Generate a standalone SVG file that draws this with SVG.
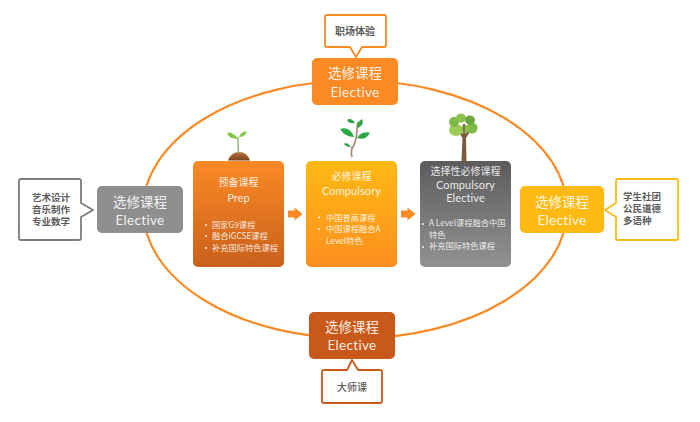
<svg xmlns="http://www.w3.org/2000/svg" width="700" height="422" viewBox="0 0 700 422">
<style>
text{font-family:"Noto Sans CJK SC","Noto Sans",sans-serif;text-anchor:middle}
.h{fill:#fff;font-size:13.5px;fill-opacity:.9}
.e{fill:#fff;font-size:13.5px;fill-opacity:.9;font-family:"Lato","Noto Sans",sans-serif;letter-spacing:.3px}
.ct{fill:#fff;font-size:10px;fill-opacity:.88}
.ce{fill:#fff;font-size:11px;fill-opacity:.88;font-family:"Lato","Noto Sans",sans-serif;letter-spacing:.1px}
.b{fill:#fff;font-size:8.25px;text-anchor:start;fill-opacity:.88}
.c{fill:#5c5c5c;font-size:9.5px;font-weight:700}
.s{fill:#fff;stroke-width:1.8;stroke-linejoin:round}
.dot{fill:#fff;fill-opacity:.9}
.sprout-leaf{fill:#86c84a}
.sapling-leaf{fill:#2aa846}
</style>
<defs>
<linearGradient id="gPrep" x1="0" y1="0" x2="0" y2="1"><stop offset="0" stop-color="#fb8a25"/><stop offset="1" stop-color="#c9601b"/></linearGradient>
<linearGradient id="gComp" x1="0" y1="0" x2="0" y2="1"><stop offset="0" stop-color="#feb913"/><stop offset="1" stop-color="#fd8f1f"/></linearGradient>
<linearGradient id="gElec" x1="0" y1="0" x2="0" y2="1"><stop offset="0" stop-color="#5c5c5c"/><stop offset="1" stop-color="#929292"/></linearGradient>
<linearGradient id="gSoil" x1="0" y1="0" x2="0" y2="1"><stop offset="0" stop-color="#b9733a"/><stop offset="1" stop-color="#7c4420"/></linearGradient>
<path id="arrow" d="M0 -3.500H6.500V-6.500L14.500 0L6.500 6.500V3.500H0Z" fill="#fd8a25"/>
</defs>

<g id="connectors">
<ellipse cx="355" cy="209.500" rx="212" ry="129" fill="none" stroke="#fb8a25" stroke-width="2.200"/>
<use href="#arrow" x="288" y="214"/>
<use href="#arrow" x="401" y="214"/>
</g>

<g id="elective-top">
<rect x="312" y="58" width="86" height="47" rx="5" fill="#fb8a25"/>
<text class="h" x="355" y="78">选修课程</text>
<text class="e" x="355" y="97">Elective</text>
</g>
<g id="callout-top">
<path class="s" stroke="#fb8a25" d="M327 15H384Q386 15 386 17V45Q386 47 384 47H362L356 57L350 47H327Q325 47 325 45V17Q325 15 327 15Z"/>
<text class="c" x="355" y="35" style="font-size:10px">职场体验</text>
</g>

<g id="elective-bottom">
<rect x="309" y="312" width="86" height="47" rx="5" fill="#c9591a"/>
<text class="h" x="352" y="331.500">选修课程</text>
<text class="e" x="352" y="350">Elective</text>
</g>
<g id="callout-bottom">
<path class="s" stroke="#c9591a" d="M324 370H347L352 360L358 370H380Q382 370 382 372V401Q382 403 380 403H324Q322 403 322 401V372Q322 370 324 370Z"/>
<text class="c" x="352" y="391" style="font-size:10px;font-weight:500">大师课</text>
</g>

<g id="elective-left">
<rect x="97" y="186" width="86" height="47" rx="5" fill="#8e8e8e"/>
<text class="h" x="140" y="206.500">选修课程</text>
<text class="e" x="140" y="225">Elective</text>
</g>
<g id="callout-left">
<path class="s" stroke="#7d7d7d" d="M21 179H79Q81 179 81 181V203L93 210L81 217V238Q81 240 79 240H21Q19 240 19 238V181Q19 179 21 179Z"/>
<text class="c"><tspan x="51" y="200.500">艺术设计</tspan><tspan x="51" y="212.800">音乐制作</tspan><tspan x="51" y="225">专业数学</tspan></text>
</g>

<g id="elective-right">
<rect x="520" y="186" width="84" height="47" rx="5" fill="#feb913"/>
<text class="h" x="562" y="206.500">选修课程</text>
<text class="e" x="562" y="225">Elective</text>
</g>
<g id="callout-right">
<path class="s" stroke="#feb913" d="M618 179H676Q678 179 678 181V238Q678 240 676 240H618Q616 240 616 238V217L605 210L616 203V181Q616 179 618 179Z"/>
<text class="c" style="text-anchor:start"><tspan x="623" y="200">学生社团</tspan><tspan x="623" y="212">公民道德</tspan><tspan x="623" y="223.500">多语种</tspan></text>
</g>

<g id="prep">
<rect x="193" y="161" width="91" height="106" rx="5" fill="url(#gPrep)"/>
<text class="ct" x="238.500" y="186">预备课程</text>
<text class="ce" x="238.500" y="202">Prep</text>
<circle class="dot" cx="206" cy="225" r="1"/><circle class="dot" cx="206" cy="236" r="1"/><circle class="dot" cx="206" cy="248" r="1"/>
<text class="b" x="212" y="227.500">国家G9课程</text>
<text class="b" x="212" y="239">融合iGCSE课程</text>
<text class="b" x="212" y="251">补充国际特色课程</text>
</g>
<g id="sprout">
<path d="M228 160.500Q231 152 239 152Q247 152 250 160.500Z" fill="url(#gSoil)"/>
<path d="M238.500 153Q238 145 238 137" fill="none" stroke="#8fb87a" stroke-width="1.500"/>
<path class="sprout-leaf" d="M238 138.500Q232 131 227 133Q229 139.500 238 138.500Z"/>
<path class="sprout-leaf" d="M239 137Q241 131 247 131.500Q245 137 239 137Z"/>
</g>

<g id="compulsory">
<rect x="306" y="161" width="91" height="106" rx="5" fill="url(#gComp)"/>
<text class="ct" x="351.500" y="180">必修课程</text>
<text class="ce" x="351.500" y="195">Compulsory</text>
<circle class="dot" cx="319" cy="217.500" r="1"/><circle class="dot" cx="319" cy="229" r="1"/>
<text class="b" x="326" y="220.500">中国普高课程</text>
<text class="b" x="326" y="232">中国课程融合A</text>
<text class="b" x="326" y="243.500">Level特色</text>
</g>
<g id="sapling">
<path d="M352 157Q350 150 354 145Q357 138 357 130Q357 125 358 122" fill="none" stroke="#a08a72" stroke-width="1.700"/>
<path d="M353 148Q350 146 347 146" fill="none" stroke="#a08a72" stroke-width="1"/>
<path class="sapling-leaf" d="M354 137Q345 137 340 129Q350 126 354 137Z"/>
<path class="sapling-leaf" d="M357 138Q361 131 370 132.500Q366 141 357 138Z"/>
<path class="sapling-leaf" d="M358 128Q356 122 362 119Q365 124 358 128Z"/>
<path class="sapling-leaf" d="M355 123Q349 124 347 120Q351 117 355 123Z"/>
<path class="sapling-leaf" d="M350 146.500Q345 147 344 143.500Q348 142 350 146.500Z"/>
</g>

<g id="compulsory-elective">
<rect x="420" y="161" width="91" height="106" rx="5" fill="url(#gElec)"/>
<text class="ct" x="465.500" y="174.500">选择性必修课程</text>
<text class="ce" x="465.500" y="189">Compulsory</text>
<text class="ce" x="465.500" y="202">Elective</text>
<circle class="dot" cx="423" cy="224" r="1"/><circle class="dot" cx="423" cy="247" r="1"/>
<text class="b" x="429" y="226">A Level课程融合中国</text>
<text class="b" x="429" y="238">特色</text>
<text class="b" x="429" y="249">补充国际特色课程</text>
</g>
<g id="tree">
<path d="M461.500 161.500L462.500 138L456 128L459 129L463 134L463 124H465L465.500 134L471 127L472 128L466 138L466.500 161.500Z" fill="#7a5a3a"/>
<ellipse cx="456" cy="130" rx="7" ry="6" fill="#9ccb55"/>
<ellipse cx="472" cy="128" rx="5.500" ry="5.500" fill="#7fb846"/>
<ellipse cx="454" cy="122" rx="5" ry="5" fill="#7fb846"/>
<ellipse cx="461" cy="118" rx="5" ry="4.500" fill="#8cc04e"/>
<ellipse cx="470" cy="120" rx="5" ry="4.500" fill="#6aa63c"/>
<ellipse cx="465" cy="129" rx="4" ry="4" fill="#8cc04e"/>
<path d="M464 125V140" stroke="#7a5a3a" stroke-width="1.500"/>
</g>
</svg>
